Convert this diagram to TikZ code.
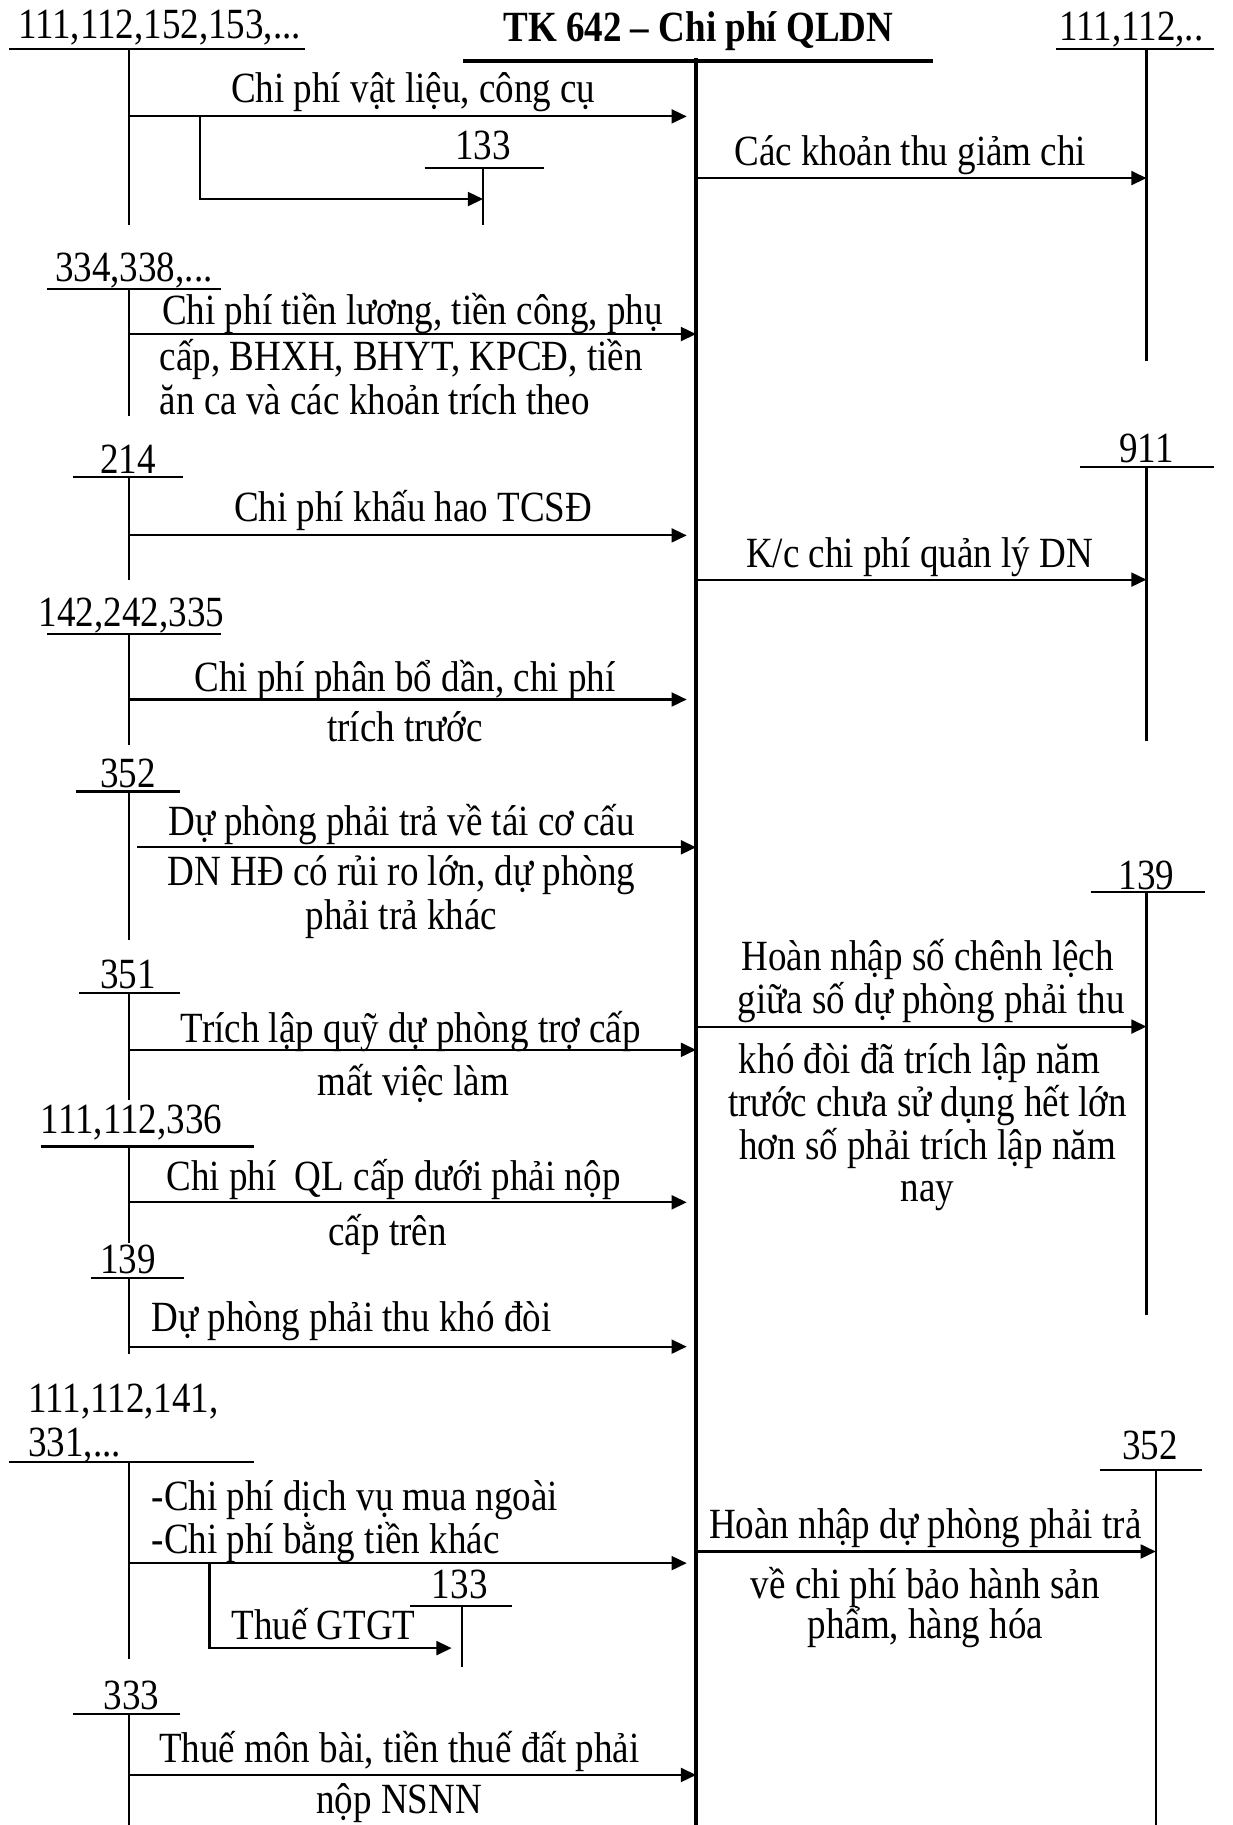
\documentclass[tikz,border=0pt]{standalone}
\usepackage{fontspec}
\setmainfont{Liberation Serif}[FakeStretch=0.86]
\usetikzlibrary{arrows.meta}
\begin{document}
\begin{tikzpicture}[x=0.5pt,y=-0.5pt,
  acc/.style={line width=0.9pt},
  mainacc/.style={line width=1.7pt},
  arr/.style={line width=0.9pt,-{Triangle[length=6.5pt,width=6pt]}},
  lbl/.style={inner sep=0pt,anchor=base,font=\fontsize{18.5}{20}\selectfont},
  lbll/.style={lbl,anchor=base west},
  ttl/.style={lbl,font=\fontsize{18.5}{20}\selectfont\bfseries}]
\useasboundingbox (0,0) rectangle (1059,1568);

% ---------- main account TK 642 ----------
\node[ttl] (title) at (600,36) {TK 642 -- Chi phí QLDN};
\coordinate (Mbl) at (398,52); \coordinate (Mbr) at (802,52);
\coordinate (Mtop) at (598,50); \coordinate (Mbot) at (598,1568);
\draw[mainacc] (Mbl) -- (Mbr);
\draw[mainacc] (Mtop) -- (Mbot);

% ---------- 111,112,152,153 ----------
\node[lbl] (n1) at (137,33) {111,112,152,153,...};
\coordinate (A1l) at (8,42); \coordinate (A1r) at (262,42);
\coordinate (A1t) at (111,42); \coordinate (A1b) at (111,193);
\draw[acc] (A1l) -- (A1r); \draw[acc] (A1t) -- (A1b);
\coordinate (A1a) at (111,100); \coordinate (E1) at (590,100);
\draw[arr] (A1a) -- (E1);
\node[lbl] (l1) at (355,88) {Chi phí vật liệu, công cụ};
% branch to 133
\node[lbl] (n133a) at (415,137) {133};
\coordinate (B1l) at (365,144); \coordinate (B1r) at (467,144);
\coordinate (B1t) at (415,144); \coordinate (B1b) at (415,193);
\draw[acc] (B1l) -- (B1r); \draw[acc] (B1t) -- (B1b);
\coordinate (K1) at (172,100); \coordinate (K2) at (172,171); \coordinate (B1a) at (415,171);
\draw[arr] (K1) -- (K2) -- (B1a);

% ---------- right 111,112,.. ----------
\node[lbl] (r1) at (972,35) {111,112,..};
\coordinate (R1l) at (907,42); \coordinate (R1r) at (1043,42);
\coordinate (R1t) at (985,42); \coordinate (R1b) at (985,310);
\draw[acc] (R1l) -- (R1r); \draw[acc] (R1t) -- (R1b);
\coordinate (S1) at (598,153); \coordinate (R1a) at (985,153);
\draw[arr] (S1) -- (R1a);
\node[lbl] (rl1) at (782,142) {Các khoản thu giảm chi};

% ---------- 334,338 ----------
\node[lbl] (n2) at (115,242) {334,338,...};
\coordinate (A2l) at (40,248); \coordinate (A2r) at (190,248);
\coordinate (A2t) at (111,248); \coordinate (A2b) at (111,357);
\draw[acc] (A2l) -- (A2r); \draw[acc] (A2t) -- (A2b);
\coordinate (A2a) at (111,287); \coordinate (E2) at (598,287);
\draw[arr] (A2a) -- (E2);
\node[lbll] (l2a) at (139,279) {Chi phí tiền lương, tiền công, phụ};
\node[lbll] (l2b) at (137,318) {cấp, BHXH, BHYT, KPCĐ, tiền};
\node[lbll] (l2c) at (137,356) {ăn ca và các khoản trích theo};

% ---------- 214 ----------
\node[lbl] (n3) at (110,407) {214};
\coordinate (A3l) at (63,410); \coordinate (A3r) at (157,410);
\coordinate (A3t) at (111,410); \coordinate (A3b) at (111,498);
\draw[acc] (A3l) -- (A3r); \draw[acc] (A3t) -- (A3b);
\coordinate (A3a) at (111,460); \coordinate (E3) at (590,460);
\draw[arr] (A3a) -- (E3);
\node[lbl] (l3) at (355,448) {Chi phí khấu hao TCSĐ};

% ---------- right 911 ----------
\node[lbl] (r2) at (985,397) {911};
\coordinate (R2l) at (928,401); \coordinate (R2r) at (1043,401);
\coordinate (R2t) at (985,401); \coordinate (R2b) at (985,637);
\draw[acc] (R2l) -- (R2r); \draw[acc] (R2t) -- (R2b);
\coordinate (S2) at (598,498); \coordinate (R2a) at (985,498);
\draw[arr] (S2) -- (R2a);
\node[lbl] (rl2) at (790,488) {K/c chi phí quản lý DN};

% ---------- 142,242,335 ----------
\node[lbl] (n4) at (113,538) {142,242,335};
\coordinate (A4l) at (40,545); \coordinate (A4r) at (190,545);
\coordinate (A4t) at (111,545); \coordinate (A4b) at (111,640);
\draw[acc] (A4l) -- (A4r); \draw[acc] (A4t) -- (A4b);
\coordinate (A4a) at (111,601); \coordinate (E4) at (590,601);
\draw[arr] (A4a) -- (E4);
\node[lbl] (l4a) at (348,594) {Chi phí phân bổ dần, chi phí};
\node[lbl] (l4b) at (348,637) {trích trước};

% ---------- 352 ----------
\node[lbl] (n5) at (110,677) {352};
\coordinate (A5l) at (65,680); \coordinate (A5r) at (155,680);
\coordinate (A5t) at (111,680); \coordinate (A5b) at (111,808);
\draw[acc] (A5l) -- (A5r); \draw[acc] (A5t) -- (A5b);
\coordinate (A5a) at (118,728); \coordinate (E5) at (598,728);
\draw[arr] (A5a) -- (E5);
\node[lbl] (l5a) at (345,718) {Dự phòng phải trả về tái cơ cấu};
\node[lbl] (l5b) at (345,761) {DN HĐ có rủi ro lớn, dự phòng};
\node[lbl] (l5c) at (345,799) {phải trả khác};

% ---------- 351 ----------
\node[lbl] (n6) at (110,849) {351};
\coordinate (A6l) at (68,853); \coordinate (A6r) at (155,853);
\coordinate (A6t) at (111,853); \coordinate (A6b) at (111,945);
\draw[acc] (A6l) -- (A6r); \draw[acc] (A6t) -- (A6b);
\coordinate (A6a) at (111,902); \coordinate (E6) at (598,902);
\draw[arr] (A6a) -- (E6);
\node[lbl] (l6a) at (353,896) {Trích lập quỹ dự phòng trợ cấp};
\node[lbl] (l6b) at (355,941) {mất việc làm};

% ---------- right 139 ----------
\node[lbl] (r3) at (985,764) {139};
\coordinate (R3l) at (937,766); \coordinate (R3r) at (1035,766);
\coordinate (R3t) at (985,766); \coordinate (R3b) at (985,1130);
\draw[acc] (R3l) -- (R3r); \draw[acc] (R3t) -- (R3b);
\coordinate (S3) at (598,882); \coordinate (R3a) at (985,882);
\draw[arr] (S3) -- (R3a);
\node[lbl] (rl3a) at (797,834) {Hoàn nhập số chênh lệch};
\node[lbl] (rl3b) at (800,871) {giữa số dự phòng phải thu};
\node[lbl] (rl3c) at (790,922) {khó đòi đã trích lập năm};
\node[lbl] (rl3d) at (797,959) {trước chưa sử dụng hết lớn};
\node[lbl] (rl3e) at (797,996) {hơn số phải trích lập năm};
\node[lbl] (rl3f) at (797,1032) {nay};

% ---------- 111,112,336 ----------
\node[lbl] (n7) at (113,974) {111,112,336};
\coordinate (A7l) at (35,985); \coordinate (A7r) at (218,985);
\coordinate (A7t) at (111,985); \coordinate (A7b) at (111,1068);
\draw[acc] (A7l) -- (A7r); \draw[acc] (A7t) -- (A7b);
\coordinate (A7a) at (111,1033); \coordinate (E7) at (590,1033);
\draw[arr] (A7a) -- (E7);
\node[lbl] (l7a) at (338,1023) {Chi phí\ \ QL cấp dưới phải nộp};
\node[lbl] (l7b) at (333,1070) {cấp trên};

% ---------- 139 left ----------
\node[lbl] (n8) at (110,1094) {139};
\coordinate (A8l) at (78,1098); \coordinate (A8r) at (158,1098);
\coordinate (A8t) at (111,1098); \coordinate (A8b) at (111,1163);
\draw[acc] (A8l) -- (A8r); \draw[acc] (A8t) -- (A8b);
\coordinate (A8a) at (111,1157); \coordinate (E8) at (590,1157);
\draw[arr] (A8a) -- (E8);
\node[lbl] (l8) at (302,1144) {Dự phòng phải thu khó đòi};

% ---------- 111,112,141,331 ----------
\node[lbll] (n9a) at (24,1214) {111,112,141,};
\node[lbll] (n9b) at (24,1251) {331,...};
\coordinate (A9l) at (8,1256); \coordinate (A9r) at (218,1256);
\coordinate (A9t) at (111,1256); \coordinate (A9b) at (111,1425);
\draw[acc] (A9l) -- (A9r); \draw[acc] (A9t) -- (A9b);
\coordinate (A9a) at (111,1343); \coordinate (E9) at (590,1343);
\draw[arr] (A9a) -- (E9);
\node[lbll] (l9a) at (130,1298) {-Chi phí dịch vụ mua ngoài};
\node[lbll] (l9b) at (130,1335) {-Chi phí bằng tiền khác};
% branch to 133
\node[lbl] (n133b) at (395,1373) {133};
\coordinate (B2l) at (352,1380); \coordinate (B2r) at (440,1380);
\coordinate (B2t) at (397,1380); \coordinate (B2b) at (397,1432);
\draw[acc] (B2l) -- (B2r); \draw[acc] (B2t) -- (B2b);
\coordinate (K3) at (180,1343); \coordinate (K4) at (180,1416); \coordinate (B2a) at (388,1416);
\draw[arr] (K3) -- (K4) -- (B2a);
\node[lbl] (l9c) at (278,1409) {Thuế GTGT};

% ---------- right 352 ----------
\node[lbl] (r4) at (988,1254) {352};
\coordinate (R4l) at (945,1263); \coordinate (R4r) at (1033,1263);
\coordinate (R4t) at (993,1263); \coordinate (R4b) at (993,1568);
\draw[acc] (R4l) -- (R4r); \draw[acc] (R4t) -- (R4b);
\coordinate (S4) at (598,1333); \coordinate (R4a) at (993,1333);
\draw[arr] (S4) -- (R4a);
\node[lbl] (rl4a) at (795,1322) {Hoàn nhập dự phòng phải trả};
\node[lbl] (rl4b) at (795,1373) {về chi phí bảo hành sản};
\node[lbl] (rl4c) at (795,1408) {phẩm, hàng hóa};

% ---------- 333 ----------
\node[lbl] (n10) at (113,1469) {333};
\coordinate (A10l) at (63,1473); \coordinate (A10r) at (155,1473);
\coordinate (A10t) at (111,1473); \coordinate (A10b) at (111,1568);
\draw[acc] (A10l) -- (A10r); \draw[acc] (A10t) -- (A10b);
\coordinate (A10a) at (111,1525); \coordinate (E10) at (598,1525);
\draw[arr] (A10a) -- (E10);
\node[lbl] (l10a) at (343,1514) {Thuế môn bài, tiền thuế đất phải};
\node[lbl] (l10b) at (343,1558) {nộp NSNN};
\end{tikzpicture}
\end{document}
